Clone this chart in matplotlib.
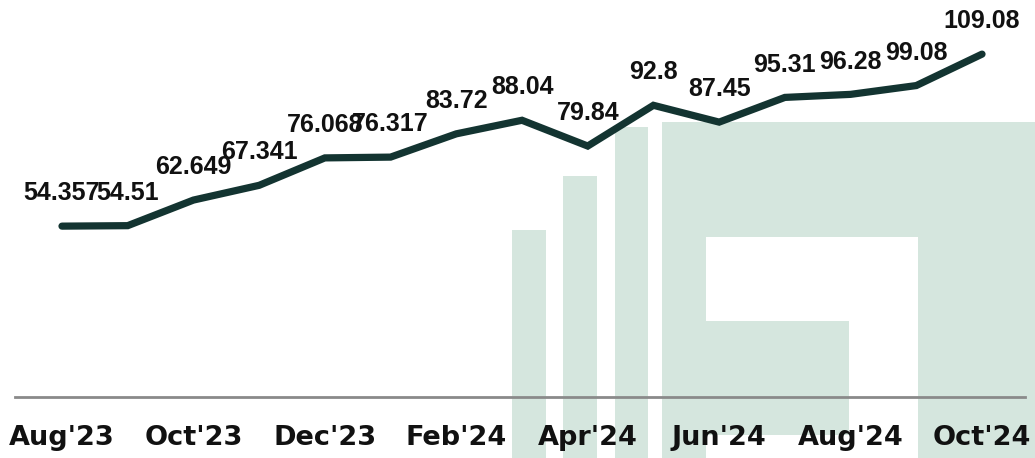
import numpy as np
import matplotlib
matplotlib.use("Agg")
import matplotlib.pyplot as plt
from matplotlib.patches import Rectangle

# monthly series, Aug'23 .. Oct'24
months = ["Aug'23", "Sep'23", "Oct'23", "Nov'23", "Dec'23", "Jan'24", "Feb'24", "Mar'24",
          "Apr'24", "May'24", "Jun'24", "Jul'24", "Aug'24", "Sep'24", "Oct'24"]
values = [54.357, 54.51, 62.649, 67.341, 76.068, 76.317, 83.72, 88.04,
          79.84, 92.8, 87.45, 95.31, 96.28, 99.08, 109.08]
labels = ["54.357", "54.51", "62.649", "67.341", "76.068", "76.317", "83.72", "88.04",
          "79.84", "92.8", "87.45", "95.31", "96.28", "99.08", "109.08"]

W, H = 1035, 458
fig = plt.figure(figsize=(W / 100, H / 100), dpi=100)
fig.patch.set_facecolor("white")

# faint logo in the background (pixel boxes -> figure fraction)
wm = "#d5e6de"
def box(x0, y0, x1, y1, color):
    fig.patches.append(Rectangle((x0 / W, 1 - y1 / H), (x1 - x0) / W, (y1 - y0) / H,
                                 transform=fig.transFigure, facecolor=color,
                                 edgecolor="none", zorder=0))
box(512, 230, 546, 458, wm)
box(563, 176, 597, 458, wm)
box(615, 127, 648, 458, wm)
box(662, 122, 1035, 458, wm)
box(706, 237, 918, 321, "white")
box(849, 321, 918, 458, "white")
box(706, 435, 918, 458, "white")

ax = fig.add_axes([15 / W, 61 / H, 1010 / W, 397 / H])
ax.set_zorder(2)
ax.patch.set_alpha(0)
x = np.arange(len(values))
ax.plot(x, values, color="#133431", lw=5.2, solid_capstyle="round",
        solid_joinstyle="miter", zorder=3)

for xi, v, s in zip(x, values, labels):
    ax.annotate(s, (xi, v), xytext=(0, 15), textcoords="offset points",
                ha="center", va="bottom", fontsize=18, fontweight="bold",
                family="Liberation Sans", color="#111111", zorder=4)

ax.set_xlim(-0.715, 14.654)
ax.set_ylim(0, 126.3)
ax.set_xticks(x[::2])
ax.set_xticklabels(months[::2], fontsize=19.5, fontweight="bold", color="#111111")
ax.tick_params(axis="x", length=0, pad=20)
ax.set_yticks([])
for side in ["top", "right", "left"]:
    ax.spines[side].set_visible(False)
ax.spines["bottom"].set_color("#8a8a8a")
ax.spines["bottom"].set_linewidth(2)

fig.savefig("out.png", dpi=100)
